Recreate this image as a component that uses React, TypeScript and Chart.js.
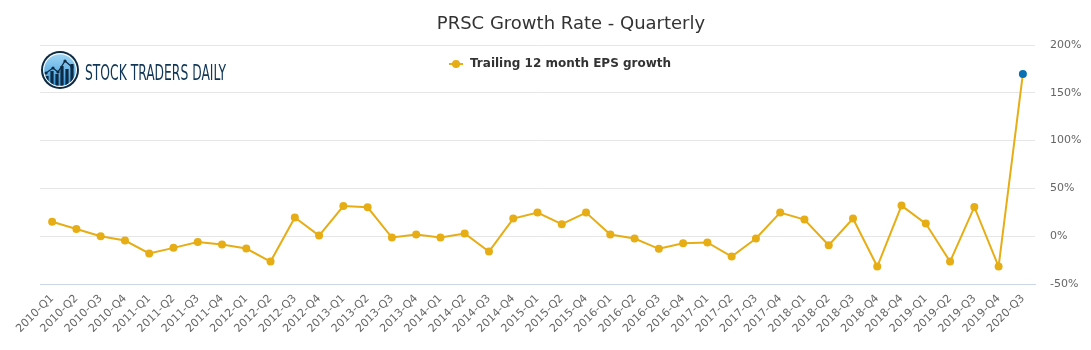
import React, { useEffect, useRef } from "react";
import { Chart, registerables } from "chart.js";

Chart.register(...registerables);

const categories = [
  "2010-Q1", "2010-Q2", "2010-Q3", "2010-Q4",
  "2011-Q1", "2011-Q2", "2011-Q3", "2011-Q4",
  "2012-Q1", "2012-Q2", "2012-Q3", "2012-Q4",
  "2013-Q1", "2013-Q2", "2013-Q3", "2013-Q4",
  "2014-Q1", "2014-Q2", "2014-Q3", "2014-Q4",
  "2015-Q1", "2015-Q2", "2015-Q4",
  "2016-Q1", "2016-Q2", "2016-Q3", "2016-Q4",
  "2017-Q1", "2017-Q2", "2017-Q3", "2017-Q4",
  "2018-Q1", "2018-Q2", "2018-Q3", "2018-Q4", "2018-Q4",
  "2019-Q1", "2019-Q2", "2019-Q3", "2019-Q4",
  "2020-Q3",
];

const epsGrowth = [
  15.2, 7.6, 0, -4.5,
  -18, -12.2, -6, -8.7,
  -12.9, -26.5, 19.5, 0.7,
  31.6, 30.2, -1.4, 1.7,
  -1.4, 2.8, -16, 18.4,
  24.7, 12.5, 24.7,
  1.7, -2.4, -13.2, -7.3,
  -6.6, -21.3, -2.4, 24.7,
  17.4, -9.4, 18.4, -31.7, 32,
  13.2, -26.5, 30.6, -31.7,
  169.7,
];

const yTicks = [-50, 0, 50, 100, 150, 200];

const titleText = "PRSC Growth Rate - Quarterly";
const seriesName = "Trailing 12 month EPS growth";
const logoText = "STOCK TRADERS DAILY";

const LINE_COLOR = "#e6ad14";
const LAST_COLOR = "#0a70b3";

const decorPlugin = {
  id: "decor",
  afterDraw(chart: any) {
    const ctx = chart.ctx as CanvasRenderingContext2D;
    ctx.save();
    // Title
    ctx.fillStyle = "#333333";
    ctx.font = "18px 'DejaVu Sans'";
    ctx.textAlign = "center";
    ctx.textBaseline = "middle";
    ctx.fillText(titleText, 571, 24);

    // Legend
    ctx.strokeStyle = LINE_COLOR;
    ctx.lineWidth = 2;
    ctx.beginPath();
    ctx.moveTo(449, 64);
    ctx.lineTo(463, 64);
    ctx.stroke();
    ctx.fillStyle = LINE_COLOR;
    ctx.beginPath();
    ctx.arc(456, 64, 4, 0, Math.PI * 2);
    ctx.fill();
    ctx.fillStyle = "#333333";
    ctx.font = "bold 12px 'DejaVu Sans'";
    ctx.textAlign = "left";
    ctx.fillText(seriesName, 470, 64);

    // Logo icon
    const cx = 60, cy = 70, r = 19;
    ctx.fillStyle = "#0d2b45";
    ctx.beginPath();
    ctx.arc(cx, cy, r, 0, Math.PI * 2);
    ctx.fill();
    ctx.fillStyle = "#ffffff";
    ctx.beginPath();
    ctx.arc(cx, cy, r - 2, 0, Math.PI * 2);
    ctx.fill();
    const g = ctx.createLinearGradient(0, cy - r, 0, cy + r);
    g.addColorStop(0, "#a8dcf7");
    g.addColorStop(1, "#2f8fd6");
    ctx.fillStyle = g;
    ctx.beginPath();
    ctx.arc(cx, cy, r - 3.2, 0, Math.PI * 2);
    ctx.fill();
    ctx.save();
    ctx.beginPath();
    ctx.arc(cx, cy, r - 3.2, 0, Math.PI * 2);
    ctx.clip();
    ctx.fillStyle = "#0d2b45";
    const bars = [
      [47, 76], [52, 71], [57, 74], [62, 66], [67, 69], [72, 64],
    ];
    for (const [bx, by] of bars) ctx.fillRect(bx - 1.6, by, 3.2, cy + r - by);
    ctx.strokeStyle = "#0d2b45";
    ctx.lineWidth = 1.3;
    ctx.beginPath();
    const pts = [[46, 73], [53, 68], [58, 72], [65, 61], [72, 67]];
    pts.forEach(([px, py], i) => (i ? ctx.lineTo(px, py) : ctx.moveTo(px, py)));
    ctx.stroke();
    for (const [px, py] of pts) {
      ctx.beginPath();
      ctx.arc(px, py, 1.6, 0, Math.PI * 2);
      ctx.fill();
    }
    ctx.restore();

    // Logo text
    ctx.fillStyle = "#0f3656";
    ctx.font = "20px 'DejaVu Sans Condensed', 'DejaVu Sans'";
    ctx.textAlign = "left";
    ctx.textBaseline = "alphabetic";
    const w = ctx.measureText(logoText).width;
    ctx.save();
    ctx.translate(85, 79.5);
    ctx.scale(141 / w, 1.05);
    ctx.fillText(logoText, 0, 0);
    ctx.restore();
    ctx.restore();
  },
};

export default function App() {
  const ref = useRef<HTMLCanvasElement>(null);
  useEffect(() => {
    if (!ref.current) return;
    const colors = epsGrowth.map((_, i) =>
      i === epsGrowth.length - 1 ? LAST_COLOR : LINE_COLOR
    );
    const chart = new Chart(ref.current, {
      type: "line",
      data: {
        labels: categories,
        datasets: [
          {
            label: seriesName,
            data: epsGrowth,
            borderColor: LINE_COLOR,
            backgroundColor: LINE_COLOR,
            pointBackgroundColor: colors,
            pointBorderColor: colors,
            pointRadius: 4,
            pointBorderWidth: 0,
            borderWidth: 2,
            tension: 0,
          },
        ],
      },
      options: {
        animation: false,
        responsive: false,
        layout: { padding: { top: 45, left: 40, right: 0, bottom: 0 } },
        plugins: {
          legend: { display: false },
          title: { display: false },
          tooltip: { enabled: false },
        },
        scales: {
          x: {
            offset: true,
            grid: { display: false, drawTicks: false },
            border: { color: "#ccd6eb", width: 1 },
            ticks: {
              color: "#666666",
              font: { size: 11, family: "'DejaVu Sans'" },
              minRotation: 45,
              maxRotation: 45,
              autoSkip: false,
              padding: 8,
            },
            afterFit: (s: any) => {
              s.height = 66;
            },
          },
          y: {
            position: "right",
            min: -50,
            max: 200,
            afterBuildTicks: (s: any) => {
              s.ticks = yTicks.map((v) => ({ value: v }));
            },
            ticks: {
              callback: (v: any) => v + "%",
              color: "#666666",
              font: { size: 11, family: "'DejaVu Sans'" },
              padding: 15,
            },
            grid: { color: "#e6e6e6", drawTicks: false },
            border: { display: false },
            afterFit: (s: any) => {
              s.width = 56;
            },
          },
        },
      } as any,
      plugins: [decorPlugin],
    });
    return () => chart.destroy();
  }, []);
  return (
    <div style={{ position: "absolute", left: 0, top: 0, width: 1091, height: 350, background: "#fff" }}>
      <canvas ref={ref} width={1091} height={350} style={{ width: 1091, height: 350 }} />
    </div>
  );
}
